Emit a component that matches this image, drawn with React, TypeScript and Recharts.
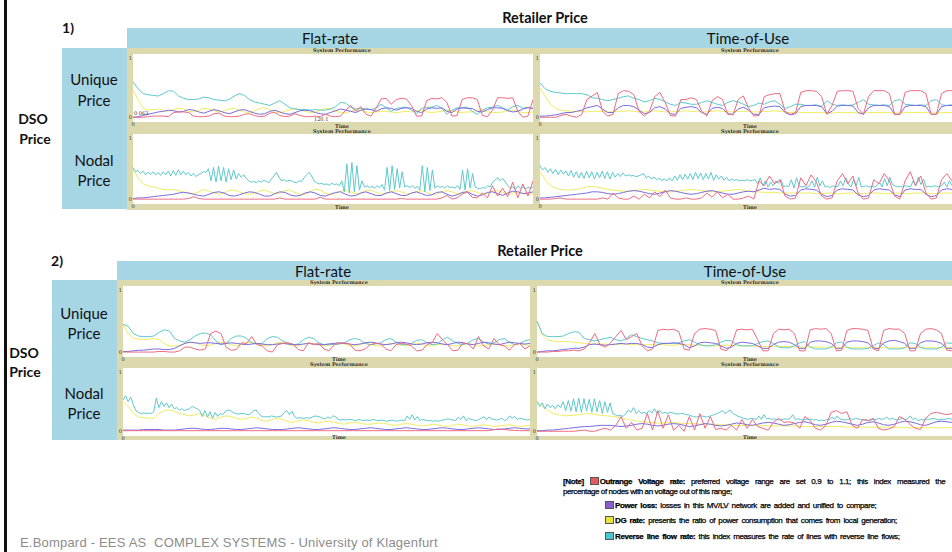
import { Line, LineChart, XAxis, YAxis } from "recharts";

const RED = "#ee6b80";
const PURPLE = "#7b6ce0";
const YELLOW = "#f0ec62";
const CYAN = "#5ec9cc";
const KHAKI = "#dcd9ae";
const BLUE = "#a6d5e4";

const seriesNames = ["Outrange Voltage rate", "Power loss", "DG rate", "Reverse line flow rate"];
const columnLabels = ["Flat-rate", "Time-of-Use"];
const rowLabels = ["Unique", "Nodal"];

// 1) flat-rate / unique DSO price
const p1FlatUniqueRed = [0,0,0,0.01,0.02,0.02,0.02,0.01,0.08,0.09, 0.09,0.08,0.02,0.01,0.01,0.02,0.06,0.07,0.02,0.01, 0.01,0.02,0.05,0.06,0.03,0.01,0.02,0.07,0.08,0.03, 0.01,0.02,0.06,0.03,0.01,0.01,0.02,0.01,0.05,0.02, 0.01,0.02,0.12,0.2,0.1,0.18,0.05,0.02,0.15,0.31, 0.32,0.22,0.3,0.32,0.31,0.2,0.02,0.02,0.28,0.32, 0.31,0.33,0.25,0.02,0.03,0.3,0.33,0.33,0.3,0.03, 0.01,0.12,0.33,0.33,0.32,0.33,0.1,0,0.02,0.3];
const p1FlatUniquePurple = [0,0.01,0.03,0.05,0.07,0.09,0.1,0.12,0.11,0.09, 0.1,0.13,0.12,0.09,0.07,0.1,0.13,0.11,0.08,0.06, 0.09,0.12,0.13,0.1,0.07,0.05,0.06,0.1,0.12,0.09, 0.06,0.05,0.08,0.11,0.12,0.11,0.08,0.06,0.05,0.08, 0.11,0.14,0.12,0.1,0.08,0.12,0.14,0.13,0.1,0.14, 0.16,0.15,0.12,0.15,0.16,0.15,0.1,0.08,0.14,0.16, 0.15,0.16,0.1,0.08,0.14,0.16,0.15,0.15,0.1,0.09, 0.13,0.16,0.16,0.15,0.11,0.09,0.1,0.14,0.16,0.15];
const p1FlatUniqueYellow = [0.46,0.3,0.15,0.12,0.13,0.14,0.12,0.1,0.13,0.15, 0.14,0.1,0.09,0.12,0.15,0.14,0.11,0.09,0.11,0.14, 0.15,0.12,0.09,0.08,0.11,0.15,0.16,0.13,0.09,0.08, 0.1,0.13,0.15,0.13,0.1,0.08,0.09,0.12,0.15,0.14, 0.1,0.08,0.07,0.1,0.13,0.12,0.09,0.08,0.09,0.1, 0.1,0.09,0.08,0.09,0.1,0.09,0.11,0.12,0.09,0.08, 0.09,0.1,0.12,0.11,0.09,0.08,0.09,0.09,0.12,0.12, 0.09,0.08,0.08,0.09,0.11,0.12,0.1,0.08,0.08,0.09];
const p1FlatUniqueCyan = [0.6,0.48,0.4,0.38,0.37,0.36,0.4,0.45,0.44,0.36, 0.32,0.3,0.3,0.31,0.34,0.33,0.3,0.29,0.28,0.3, 0.36,0.4,0.37,0.3,0.26,0.24,0.22,0.2,0.24,0.28, 0.22,0.16,0.14,0.13,0.13,0.12,0.13,0.12,0.12,0.14, 0.18,0.25,0.24,0.17,0.14,0.15,0.14,0.13,0.16,0.22, 0.16,0.1,0.15,0.16,0.17,0.12,0.06,0.15,0.17,0.17, 0.2,0.15,0.05,0.12,0.16,0.16,0.17,0.1,0.05,0.12, 0.16,0.17,0.2,0.16,0.12,0.18,0.2,0.15,0.17,0.15];

// 1) time-of-use / unique
const p1TouUniqueRed = [0,0,0,0,0.03,0.05,0.02,0,0.05,0.3, 0.36,0.42,0.1,0.02,0.05,0.4,0.45,0.44,0.38,0.1, 0.02,0.1,0.35,0.42,0.25,0.03,0.02,0.3,0.3,0.33, 0.3,0.1,0.02,0.28,0.35,0.3,0.05,0.04,0.3,0.36, 0.15,0.02,0.03,0.35,0.38,0.4,0.4,0.1,0.05,0.08, 0.42,0.45,0.45,0.44,0.35,0.05,0.2,0.44,0.45,0.45, 0.44,0.15,0.05,0.35,0.45,0.45,0.45,0.4,0.05,0.05, 0.42,0.45,0.45,0.45,0.4,0.05,0.05,0.4,0.45,0.45];
const p1TouUniquePurple = [0.02,0.02,0.03,0.04,0.06,0.08,0.08,0.1,0.12,0.16, 0.18,0.2,0.14,0.08,0.08,0.16,0.2,0.2,0.18,0.12, 0.06,0.08,0.16,0.18,0.14,0.06,0.05,0.15,0.17,0.18, 0.16,0.08,0.05,0.15,0.17,0.15,0.06,0.05,0.14,0.17, 0.12,0.05,0.05,0.16,0.18,0.19,0.18,0.08,0.04,0.06, 0.18,0.2,0.2,0.2,0.18,0.06,0.1,0.19,0.2,0.2, 0.19,0.08,0.05,0.16,0.2,0.2,0.2,0.18,0.05,0.05, 0.18,0.2,0.2,0.2,0.18,0.05,0.05,0.18,0.2,0.2];
const p1TouUniqueYellow = [0.5,0.35,0.22,0.15,0.12,0.11,0.1,0.1,0.1,0.09, 0.1,0.1,0.1,0.09,0.09,0.1,0.1,0.11,0.1,0.09, 0.09,0.1,0.11,0.1,0.09,0.09,0.1,0.1,0.11,0.1, 0.1,0.09,0.09,0.1,0.11,0.1,0.09,0.09,0.1,0.1, 0.1,0.09,0.09,0.1,0.1,0.11,0.1,0.09,0.08,0.09, 0.08,0.08,0.08,0.08,0.08,0.07,0.07,0.08,0.08,0.08, 0.08,0.07,0.07,0.08,0.08,0.08,0.08,0.08,0.07,0.07, 0.08,0.08,0.08,0.08,0.08,0.07,0.07,0.08,0.08,0.08];
const p1TouUniqueCyan = [0.58,0.48,0.44,0.42,0.41,0.4,0.4,0.4,0.4,0.38, 0.33,0.32,0.3,0.28,0.3,0.32,0.35,0.36,0.32,0.3, 0.26,0.28,0.32,0.3,0.26,0.22,0.2,0.25,0.24,0.22, 0.22,0.25,0.28,0.25,0.22,0.2,0.25,0.28,0.26,0.22, 0.18,0.2,0.24,0.22,0.26,0.28,0.22,0.15,0.18,0.22, 0.22,0.2,0.2,0.21,0.18,0.28,0.22,0.2,0.21,0.2, 0.21,0.25,0.3,0.22,0.21,0.2,0.21,0.2,0.28,0.3, 0.22,0.21,0.2,0.21,0.2,0.28,0.3,0.21,0.2,0.21];

// 1) flat-rate / nodal
const p1FlatNodalRed = [0,0,0,0,0,0,0,0,0,0, 0,0.01,0.04,0.01,0,0,0,0,0,0, 0,0,0,0,0,0,0,0,0,0.02, 0,0,0,0,0,0,0,0.03,0,0, 0,0,0,0,0,0,0,0,0,0, 0,0,0,0.01,0,0,0,0,0,0, 0,0.02,0.06,0,0.02,0.08,0.12,0.03,0.02,0.1, 0.02,0.22,0.05,0.18,0.04,0.28,0.02,0.25,0.05,0.3];
const p1FlatNodalPurple = [0.01,0.02,0.02,0.03,0.04,0.05,0.06,0.07,0.08,0.1, 0.11,0.1,0.08,0.06,0.05,0.08,0.11,0.12,0.1,0.06, 0.05,0.07,0.1,0.12,0.11,0.08,0.05,0.05,0.09,0.12, 0.11,0.07,0.05,0.06,0.1,0.12,0.1,0.06,0.05,0.08, 0.11,0.12,0.08,0.05,0.06,0.1,0.12,0.09,0.06,0.06, 0.1,0.12,0.09,0.06,0.06,0.1,0.12,0.09,0.06,0.07, 0.11,0.12,0.08,0.05,0.07,0.11,0.12,0.08,0.05,0.07, 0.11,0.12,0.09,0.06,0.1,0.13,0.12,0.09,0.1,0.12];
const p1FlatNodalYellow = [0.5,0.35,0.25,0.22,0.2,0.18,0.16,0.15,0.16,0.14, 0.12,0.1,0.09,0.12,0.16,0.13,0.1,0.08,0.1,0.14, 0.15,0.12,0.09,0.08,0.09,0.13,0.15,0.12,0.09,0.1, 0.14,0.15,0.11,0.08,0.08,0.12,0.16,0.15,0.1,0.08, 0.09,0.13,0.15,0.12,0.09,0.1,0.14,0.15,0.11,0.08, 0.09,0.12,0.14,0.12,0.09,0.09,0.12,0.14,0.11,0.08, 0.08,0.12,0.14,0.12,0.09,0.09,0.13,0.14,0.11,0.08, 0.09,0.13,0.14,0.11,0.09,0.1,0.12,0.1,0.08,0.09];
const p1FlatNodalCyan = [0.52,0.45,0.47,0.42,0.46,0.4,0.44,0.41,0.45,0.4, 0.44,0.39,0.45,0.4,0.46,0.38,0.47,0.39,0.48,0.4, 0.46,0.4,0.44,0.38,0.42,0.37,0.4,0.42,0.45,0.44, 0.5,0.3,0.52,0.28,0.54,0.3,0.52,0.28,0.5,0.32, 0.48,0.33,0.42,0.36,0.4,0.34,0.3,0.28,0.29,0.27, 0.3,0.28,0.31,0.29,0.27,0.33,0.38,0.44,0.36,0.3, 0.32,0.29,0.31,0.3,0.28,0.27,0.3,0.29,0.35,0.4, 0.44,0.38,0.3,0.27,0.25,0.26,0.24,0.25,0.23,0.26, 0.24,0.25,0.22,0.3,0.12,0.58,0.1,0.6,0.12,0.55, 0.15,0.3,0.2,0.22,0.19,0.21,0.18,0.22,0.19,0.24, 0.15,0.52,0.14,0.55,0.16,0.5,0.18,0.45,0.2,0.22, 0.19,0.22,0.18,0.21,0.15,0.55,0.12,0.52,0.14,0.48, 0.18,0.22,0.19,0.21,0.18,0.22,0.19,0.2,0.18,0.22, 0.16,0.48,0.15,0.5,0.18,0.42,0.2,0.18,0.17,0.19, 0.18,0.22,0.2,0.28,0.32,0.35,0.3,0.34,0.28,0.22, 0.18,0.2,0.16,0.22,0.18,0.2,0.17,0.19,0.18,0.2];

// 1) time-of-use / nodal
const p1TouNodalRed = [0,0,0,0.01,0.02,0,0,0,0,0, 0,0,0.02,0,0.1,0.02,0,0,0.05,0, 0.08,0.02,0.12,0.04,0.15,0.02,0,0,0.02,0, 0,0.02,0.1,0.03,0.12,0.02,0.08,0,0,0.02, 0.05,0,0.3,0.22,0.38,0.25,0.32,0.05,0,0.02, 0.35,0.22,0.4,0.28,0.05,0,0.02,0.3,0.42,0.25, 0.38,0.1,0,0.02,0.32,0.25,0.42,0.3,0.05,0, 0.3,0.45,0.22,0.38,0.1,0,0.02,0.32,0.42,0.3];
const p1TouNodalPurple = [0.02,0.02,0.03,0.04,0.05,0.06,0.07,0.08,0.09,0.1, 0.12,0.12,0.11,0.09,0.08,0.09,0.11,0.13,0.14,0.13, 0.11,0.09,0.08,0.1,0.12,0.14,0.13,0.11,0.09,0.08, 0.09,0.11,0.13,0.14,0.12,0.1,0.08,0.08,0.1,0.12, 0.13,0.12,0.15,0.18,0.16,0.17,0.16,0.08,0.05,0.06, 0.15,0.17,0.16,0.15,0.08,0.04,0.06,0.15,0.17,0.16, 0.15,0.07,0.04,0.06,0.15,0.17,0.16,0.15,0.07,0.04, 0.15,0.17,0.16,0.16,0.08,0.04,0.06,0.15,0.17,0.16];
const p1TouNodalYellow = [0.45,0.32,0.22,0.18,0.16,0.15,0.15,0.16,0.18,0.2, 0.21,0.2,0.18,0.16,0.15,0.14,0.13,0.13,0.14,0.15, 0.16,0.15,0.14,0.13,0.12,0.12,0.13,0.14,0.15,0.16, 0.15,0.14,0.13,0.12,0.12,0.13,0.14,0.15,0.16,0.15, 0.13,0.12,0.12,0.11,0.11,0.11,0.1,0.1,0.1,0.1, 0.1,0.1,0.1,0.09,0.09,0.1,0.1,0.09,0.09,0.1, 0.1,0.09,0.09,0.1,0.1,0.1,0.09,0.09,0.1,0.1, 0.09,0.09,0.1,0.1,0.1,0.09,0.09,0.1,0.1,0.1];
const p1TouNodalCyan = [0.55,0.48,0.52,0.44,0.5,0.42,0.49,0.4,0.48,0.41, 0.46,0.38,0.47,0.36,0.45,0.35,0.44,0.34,0.46,0.35, 0.45,0.33,0.44,0.35,0.46,0.34,0.45,0.33,0.44,0.36, 0.42,0.37,0.43,0.38,0.4,0.38,0.39,0.37,0.38,0.4, 0.42,0.35,0.38,0.33,0.36,0.32,0.34,0.31,0.33,0.3, 0.35,0.3,0.38,0.31,0.4,0.32,0.41,0.33,0.42,0.32, 0.44,0.34,0.43,0.32,0.42,0.33,0.44,0.31,0.4,0.33, 0.38,0.31,0.36,0.3,0.33,0.31,0.32,0.3,0.31,0.3, 0.32,0.3,0.31,0.32,0.25,0.35,0.22,0.3,0.2,0.28, 0.22,0.3,0.26,0.32,0.2,0.22,0.21,0.32,0.18,0.35, 0.22,0.2,0.21,0.19,0.22,0.3,0.2,0.36,0.22,0.3, 0.2,0.21,0.19,0.22,0.2,0.21,0.3,0.22,0.35,0.25, 0.2,0.32,0.22,0.36,0.2,0.21,0.22,0.2,0.21,0.2, 0.22,0.28,0.2,0.34,0.22,0.36,0.24,0.22,0.2,0.21, 0.2,0.22,0.21,0.2,0.3,0.22,0.36,0.24,0.33,0.2, 0.21,0.2,0.22,0.21,0.2,0.22,0.28,0.2,0.3,0.22];

// 2) flat-rate / unique
const p2FlatUniqueRed = [0,0,0,0,0,0,0,0.01,0.01,0, 0,0.02,0.08,0.08,0.05,0.03,0.05,0.3,0.34,0.3, 0.08,0.03,0.04,0.15,0.14,0.25,0.12,0.1,0.02,0, 0.12,0.14,0.15,0.13,0.04,0.02,0.15,0.12,0.14,0.05, 0.02,0.12,0.14,0.15,0.13,0.03,0.02,0.05,0.12,0.14, 0.13,0.05,0.02,0.12,0.14,0.13,0.1,0.02,0.03,0.12, 0.15,0.3,0.2,0.12,0.02,0.03,0.15,0.13,0.05,0.25, 0.1,0.05,0.22,0.12,0.1,0.03,0.12,0.14,0.05,0.1];
const p2FlatUniquePurple = [0.01,0.01,0.02,0.03,0.03,0.04,0.05,0.05,0.04,0.04, 0.06,0.1,0.14,0.16,0.15,0.14,0.15,0.15,0.14,0.13, 0.14,0.15,0.14,0.13,0.12,0.13,0.14,0.13,0.12,0.12, 0.13,0.14,0.13,0.12,0.12,0.13,0.14,0.13,0.12,0.12, 0.13,0.14,0.15,0.14,0.13,0.12,0.13,0.15,0.16,0.15, 0.13,0.12,0.13,0.15,0.16,0.15,0.13,0.12,0.13,0.15, 0.16,0.15,0.13,0.12,0.14,0.16,0.15,0.13,0.12,0.14, 0.16,0.15,0.13,0.12,0.14,0.16,0.15,0.14,0.13,0.14];
const p2FlatUniqueYellow = [0.45,0.3,0.22,0.21,0.2,0.21,0.22,0.2,0.14,0.1, 0.1,0.11,0.14,0.16,0.15,0.12,0.1,0.11,0.14,0.16, 0.15,0.12,0.1,0.12,0.15,0.16,0.14,0.11,0.1,0.12, 0.15,0.16,0.13,0.1,0.1,0.13,0.15,0.14,0.11,0.1, 0.11,0.14,0.15,0.13,0.1,0.1,0.12,0.14,0.13,0.1, 0.1,0.12,0.14,0.13,0.11,0.1,0.12,0.14,0.13,0.1, 0.1,0.12,0.13,0.12,0.1,0.1,0.12,0.14,0.12,0.1, 0.1,0.12,0.13,0.12,0.1,0.1,0.12,0.13,0.12,0.1];
const p2FlatUniqueCyan = [0.45,0.42,0.3,0.26,0.25,0.25,0.26,0.32,0.36,0.34, 0.22,0.18,0.16,0.2,0.26,0.3,0.31,0.28,0.18,0.12, 0.14,0.22,0.26,0.26,0.22,0.15,0.13,0.14,0.22,0.25, 0.24,0.18,0.14,0.12,0.13,0.2,0.24,0.22,0.15,0.12, 0.13,0.12,0.13,0.15,0.2,0.22,0.2,0.14,0.12,0.13, 0.15,0.2,0.22,0.16,0.12,0.12,0.14,0.19,0.2,0.15, 0.12,0.13,0.2,0.24,0.18,0.14,0.12,0.15,0.2,0.22, 0.16,0.13,0.15,0.2,0.22,0.16,0.12,0.14,0.18,0.2];

// 2) time-of-use / unique
const p2TouUniqueRed = [0,0,0,0.01,0.01,0.02,0.02,0.03,0.02,0.05, 0.15,0.3,0.12,0.08,0.15,0.25,0.35,0.2,0.25,0.3, 0.1,0.02,0.05,0.35,0.37,0.36,0.37,0.33,0.05,0.03, 0.3,0.37,0.38,0.37,0.35,0.05,0.02,0.1,0.36,0.37, 0.36,0.37,0.2,0.02,0.02,0.3,0.37,0.36,0.37,0.3, 0.02,0.02,0.36,0.38,0.37,0.38,0.3,0.02,0.03,0.35, 0.38,0.38,0.37,0.35,0.05,0.02,0.35,0.38,0.37,0.37, 0.3,0.02,0.02,0.3,0.37,0.38,0.36,0.3,0.03,0.02];
const p2TouUniquePurple = [0,0.01,0.02,0.02,0.03,0.04,0.05,0.06,0.06,0.08, 0.12,0.13,0.12,0.11,0.12,0.13,0.14,0.13,0.14,0.14, 0.12,0.08,0.07,0.12,0.14,0.14,0.15,0.14,0.12,0.07, 0.1,0.15,0.16,0.15,0.14,0.1,0.06,0.08,0.14,0.16, 0.15,0.14,0.1,0.06,0.06,0.12,0.16,0.17,0.16,0.12, 0.06,0.06,0.16,0.18,0.18,0.17,0.14,0.06,0.06,0.16, 0.18,0.18,0.17,0.15,0.07,0.05,0.15,0.18,0.19,0.17, 0.14,0.06,0.06,0.15,0.18,0.18,0.17,0.14,0.06,0.06];
const p2TouUniqueYellow = [0.5,0.28,0.2,0.18,0.17,0.17,0.17,0.16,0.15,0.14, 0.13,0.13,0.13,0.13,0.12,0.12,0.13,0.13,0.12,0.12, 0.12,0.12,0.12,0.12,0.12,0.11,0.11,0.12,0.12,0.12, 0.11,0.11,0.11,0.1,0.1,0.11,0.11,0.11,0.1,0.1, 0.1,0.1,0.09,0.09,0.09,0.09,0.09,0.09,0.09,0.08, 0.08,0.08,0.08,0.08,0.08,0.08,0.08,0.07,0.07,0.07, 0.07,0.07,0.07,0.07,0.07,0.07,0.07,0.07,0.07,0.07, 0.07,0.07,0.07,0.07,0.07,0.07,0.07,0.07,0.07,0.07];
const p2TouUniqueCyan = [0.5,0.3,0.25,0.25,0.25,0.26,0.3,0.33,0.32,0.22, 0.2,0.18,0.2,0.22,0.24,0.2,0.18,0.22,0.28,0.25, 0.22,0.2,0.18,0.15,0.14,0.14,0.14,0.15,0.18,0.2, 0.16,0.12,0.1,0.1,0.12,0.16,0.19,0.18,0.12,0.1, 0.1,0.1,0.14,0.17,0.18,0.14,0.08,0.07,0.07,0.1, 0.15,0.17,0.08,0.05,0.05,0.05,0.08,0.15,0.16,0.08, 0.05,0.05,0.05,0.06,0.1,0.15,0.12,0.05,0.05,0.05, 0.07,0.15,0.14,0.08,0.05,0.05,0.05,0.08,0.15,0.14];

// 2) flat-rate / nodal
const p2FlatNodalRed = [0.01,0.01,0.01,0.01,0.01,0.01,0.01,0.01,0.01,0.01, 0.01,0.01,0.01,0.01,0.01,0.01,0.01,0.01,0.01,0.01, 0.01,0.01,0.01,0.01,0.01,0.01,0.01,0.01,0.01,0.01, 0.01,0.01,0.01,0.01,0.01,0.01,0.04,0.02,0.01,0.01];
const p2FlatNodalPurple = [0.02,0.02,0.02,0.02,0.03,0.03,0.03,0.03,0.02,0.02, 0.02,0.03,0.04,0.05,0.05,0.04,0.03,0.03,0.04,0.05, 0.05,0.04,0.03,0.03,0.04,0.05,0.06,0.05,0.04,0.03, 0.03,0.03,0.04,0.05,0.06,0.05,0.04,0.03,0.03,0.04, 0.05,0.06,0.05,0.04,0.03,0.03,0.04,0.05,0.06,0.05, 0.04,0.03,0.03,0.04,0.05,0.06,0.05,0.04,0.03,0.03, 0.04,0.05,0.06,0.05,0.04,0.03,0.03,0.04,0.05,0.06, 0.05,0.04,0.03,0.03,0.04,0.05,0.06,0.05,0.04,0.04];
const p2FlatNodalYellow = [0.5,0.42,0.3,0.24,0.23,0.22,0.22,0.3,0.35,0.36, 0.34,0.3,0.28,0.26,0.28,0.3,0.26,0.22,0.2,0.24, 0.26,0.25,0.22,0.2,0.22,0.24,0.22,0.18,0.17,0.2, 0.22,0.2,0.16,0.15,0.17,0.19,0.18,0.15,0.14,0.16, 0.17,0.15,0.13,0.12,0.14,0.15,0.14,0.12,0.12,0.13, 0.14,0.13,0.11,0.1,0.12,0.13,0.12,0.1,0.09,0.1, 0.12,0.11,0.09,0.08,0.1,0.12,0.11,0.09,0.08,0.1, 0.11,0.1,0.08,0.09,0.1,0.11,0.1,0.08,0.09,0.1];
const p2FlatNodalCyan = [0.53,0.6,0.5,0.58,0.45,0.35,0.32,0.3,0.31,0.3, 0.31,0.3,0.33,0.56,0.4,0.5,0.42,0.48,0.4,0.46, 0.38,0.4,0.36,0.38,0.35,0.37,0.38,0.42,0.4,0.38, 0.35,0.25,0.35,0.24,0.33,0.22,0.32,0.25,0.3,0.28, 0.34,0.36,0.35,0.32,0.3,0.29,0.3,0.3,0.29,0.28, 0.3,0.35,0.36,0.3,0.26,0.24,0.25,0.24,0.26,0.25, 0.24,0.25,0.26,0.32,0.35,0.28,0.34,0.25,0.22,0.23, 0.22,0.22,0.23,0.22,0.24,0.26,0.25,0.24,0.22,0.21, 0.24,0.22,0.26,0.25,0.2,0.19,0.2,0.19,0.2,0.2, 0.19,0.18,0.2,0.19,0.18,0.19,0.18,0.19,0.2,0.18, 0.18,0.19,0.18,0.17,0.18,0.19,0.18,0.17,0.18,0.19, 0.18,0.26,0.2,0.28,0.19,0.25,0.18,0.2,0.19,0.18, 0.18,0.17,0.18,0.17,0.18,0.19,0.2,0.21,0.2,0.19, 0.18,0.24,0.2,0.26,0.18,0.22,0.2,0.19,0.18,0.2, 0.22,0.25,0.2,0.24,0.21,0.2,0.19,0.2,0.22,0.18, 0.2,0.26,0.22,0.25,0.2,0.22,0.21,0.2,0.19,0.2];

// 2) time-of-use / nodal
const p2TouNodalRed = [0,0,0,0,0,0,0,0,0.01,0.02, 0,0,0.03,0.05,0.02,0.1,0.25,0.05,0.15,0.02, 0.05,0.3,0.02,0.35,0.05,0.28,0.02,0.1,0,0.25, 0.02,0.3,0.05,0.25,0.03,0.05,0.02,0.1,0.02,0.2, 0.05,0.2,0.08,0.05,0.02,0.15,0.22,0.15,0.16,0.14, 0.05,0.25,0.18,0.05,0.02,0.1,0.32,0.35,0.3,0.33, 0.1,0.05,0.2,0.18,0.22,0.05,0.02,0.04,0.08,0.25, 0.2,0.12,0.05,0.03,0.22,0.3,0.32,0.3,0.28,0.3];
const p2TouNodalPurple = [0.01,0.01,0.02,0.02,0.03,0.04,0.05,0.06,0.07,0.08, 0.08,0.09,0.1,0.1,0.1,0.09,0.08,0.09,0.1,0.12, 0.13,0.12,0.1,0.09,0.1,0.12,0.13,0.12,0.1,0.08, 0.09,0.11,0.13,0.12,0.1,0.09,0.1,0.12,0.14,0.13, 0.11,0.1,0.12,0.14,0.15,0.14,0.12,0.1,0.11,0.13, 0.15,0.16,0.14,0.11,0.1,0.12,0.15,0.17,0.16,0.14, 0.12,0.1,0.12,0.15,0.16,0.14,0.11,0.1,0.12,0.15, 0.17,0.16,0.14,0.11,0.1,0.13,0.16,0.17,0.16,0.15];
const p2TouNodalYellow = [0.5,0.4,0.32,0.28,0.26,0.27,0.28,0.3,0.29,0.27, 0.26,0.25,0.22,0.2,0.18,0.16,0.15,0.14,0.14,0.15, 0.14,0.13,0.13,0.12,0.12,0.12,0.11,0.11,0.1,0.1, 0.1,0.1,0.1,0.09,0.09,0.09,0.09,0.09,0.08,0.08, 0.08,0.08,0.08,0.08,0.07,0.07,0.07,0.07,0.07,0.07, 0.07,0.07,0.06,0.06,0.06,0.06,0.06,0.06,0.06,0.06];
const p2TouNodalCyan = [0.5,0.42,0.48,0.38,0.46,0.4,0.44,0.38,0.45,0.4, 0.5,0.35,0.52,0.34,0.55,0.33,0.56,0.32,0.55,0.34, 0.54,0.32,0.55,0.33,0.52,0.3,0.5,0.32,0.48,0.3, 0.28,0.26,0.27,0.25,0.3,0.36,0.32,0.4,0.3,0.35, 0.3,0.32,0.3,0.35,0.31,0.38,0.3,0.35,0.3,0.32, 0.3,0.32,0.31,0.3,0.29,0.3,0.3,0.28,0.28,0.26, 0.25,0.24,0.25,0.26,0.25,0.24,0.25,0.27,0.28,0.3, 0.32,0.35,0.3,0.33,0.36,0.3,0.28,0.25,0.24,0.22, 0.21,0.2,0.22,0.21,0.2,0.26,0.2,0.28,0.21,0.22, 0.2,0.21,0.2,0.19,0.2,0.21,0.2,0.22,0.28,0.2, 0.21,0.2,0.19,0.2,0.21,0.2,0.19,0.2,0.18,0.19, 0.18,0.2,0.19,0.24,0.2,0.26,0.21,0.2,0.19,0.2, 0.21,0.2,0.22,0.21,0.2,0.19,0.2,0.18,0.19,0.2, 0.2,0.22,0.2,0.21,0.24,0.2,0.22,0.2,0.19,0.2, 0.22,0.2,0.21,0.26,0.2,0.22,0.18,0.2,0.19,0.21, 0.2,0.21,0.22,0.2,0.19,0.2,0.2,0.21,0.22,0.2];

type Series = { red: number[]; purple: number[]; yellow: number[]; cyan: number[] };

const pts = (arr: number[]) => arr.map((v, i) => ({ t: i / (arr.length - 1), v }));

const SERIF = "'DejaVu Serif', serif";
const tiny = { fontFamily: SERIF, fontSize: 5, fontWeight: 700, color: "#333", lineHeight: "5px" };
const tickStyle = { fontSize: 5, fill: "#333", fontFamily: SERIF };

function PerfChart({ x, y, w, h, strip, top, bottom, mid, s }: { x: number; y: number; w: number; h: number; strip: number; top: number; bottom: number; mid: number; s: Series }) {
  return (
    <div style={{ position: "absolute", left: x, top: y, width: w, height: h, background: "#fff", overflow: "hidden" }}>
      <div style={{ position: "absolute", left: 0, top: 0, width: w, height: top, background: KHAKI }} />
      <div style={{ position: "absolute", left: 0, bottom: 0, width: w, height: bottom, background: KHAKI }} />
      <div style={{ position: "absolute", left: 0, top: 0, width: strip, height: h, background: KHAKI }} />
      <div style={{ ...tiny, position: "absolute", left: mid - 40, width: 80, top: 0, textAlign: "center" }}>System Performance</div>
      <div style={{ ...tiny, position: "absolute", left: mid - 20, width: 40, bottom: 0, textAlign: "center" }}>Time</div>
      <div style={{ position: "absolute", left: 0, top: 0 }}>
        <LineChart width={w} height={h} margin={{ top, right: 0, bottom: 0, left: 0 }}>
          <XAxis type="number" dataKey="t" domain={[0, 1]} ticks={[0]} height={bottom} axisLine={false} tickLine={false} tickSize={0} tickMargin={0} tick={tickStyle} />
          <YAxis type="number" domain={[-0.08, 1.07]} ticks={[0, 1]} width={strip} axisLine={false} tickLine={false} tickSize={0} tickMargin={1} tick={tickStyle} />
          <Line data={pts(s.yellow)} dataKey="v" name={seriesNames[2]} stroke={YELLOW} strokeWidth={1} dot={false} isAnimationActive={false} type="linear" />
          <Line data={pts(s.cyan)} dataKey="v" name={seriesNames[3]} stroke={CYAN} strokeWidth={1} dot={false} isAnimationActive={false} type="linear" />
          <Line data={pts(s.purple)} dataKey="v" name={seriesNames[1]} stroke={PURPLE} strokeWidth={1} dot={false} isAnimationActive={false} type="linear" />
          <Line data={pts(s.red)} dataKey="v" name={seriesNames[0]} stroke={RED} strokeWidth={1} dot={false} isAnimationActive={false} type="linear" />
        </LineChart>
      </div>
    </div>
  );
}

function Txt({ x, y, size, bold, children, color }: { x: number; y: number; size: number; bold?: boolean; color?: string; children: React.ReactNode }) {
  return (
    <div style={{ position: "absolute", left: x, top: y, transform: "translate(-50%, -50%)", fontSize: size, fontWeight: bold ? 700 : 400, whiteSpace: "nowrap", lineHeight: 1, color: color ?? "#111" }}>
      {children}
    </div>
  );
}

function Sq({ c }: { c: string }) {
  return <span style={{ display: "inline-block", width: 7, height: 6, background: c, border: "1px solid #555", marginRight: 1, verticalAlign: "-1px" }} />;
}

export default function App() {
  const legendLine = { position: "absolute" as const, whiteSpace: "nowrap" as const, fontFamily: "'Liberation Sans', Arial, sans-serif", fontSize: 8, letterSpacing: -0.4, color: "#000", lineHeight: "9px", WebkitTextStroke: "0.25px #000" };
  return (
    <div style={{ position: "fixed", left: 0, top: 0, width: 952, height: 552, background: "#fff", overflow: "hidden", fontFamily: "Lato, 'Open Sans', sans-serif" }}>
      <div style={{ position: "absolute", left: 4, top: 0, width: 3, height: 552, background: "#111" }} />

      {/* panel 1 */}
      <Txt x={545} y={18} size={14.5} bold>Retailer Price</Txt>
      <Txt x={68} y={28} size={14} bold>1)</Txt>
      <div style={{ position: "absolute", left: 127, top: 28, width: 825, height: 20, background: BLUE }} />
      <div style={{ position: "absolute", left: 62, top: 48, width: 65, height: 161, background: BLUE }} />
      <Txt x={330} y={38} size={15}>{columnLabels[0]}</Txt>
      <Txt x={748} y={38} size={15}>{columnLabels[1]}</Txt>
      <Txt x={94} y={79} size={15}>{rowLabels[0]}</Txt>
      <Txt x={94} y={100} size={15}>Price</Txt>
      <Txt x={94} y={160} size={15}>{rowLabels[1]}</Txt>
      <Txt x={94} y={180} size={15}>Price</Txt>
      <Txt x={33} y={119} size={14} bold>DSO</Txt>
      <Txt x={35} y={139} size={14} bold>Price</Txt>
      <PerfChart x={127} y={48} w={406} h={81} strip={6} top={6} bottom={7} mid={215} s={{ red: p1FlatUniqueRed, purple: p1FlatUniquePurple, yellow: p1FlatUniqueYellow, cyan: p1FlatUniqueCyan }} />
      <PerfChart x={533} y={48} w={419} h={81} strip={7} top={6} bottom={7} mid={217} s={{ red: p1TouUniqueRed, purple: p1TouUniquePurple, yellow: p1TouUniqueYellow, cyan: p1TouUniqueCyan }} />
      <PerfChart x={127} y={129} w={406} h={81} strip={6} top={5} bottom={6} mid={215} s={{ red: p1FlatNodalRed, purple: p1FlatNodalPurple, yellow: p1FlatNodalYellow, cyan: p1FlatNodalCyan }} />
      <PerfChart x={533} y={129} w={419} h={81} strip={7} top={5} bottom={6} mid={217} s={{ red: p1TouNodalRed, purple: p1TouNodalPurple, yellow: p1TouNodalYellow, cyan: p1TouNodalCyan }} />
      <div style={{ ...tiny, fontWeight: 400, position: "absolute", left: 134, top: 111 }}>0.063</div>
      <div style={{ ...tiny, fontWeight: 400, position: "absolute", left: 314, top: 117 }}>120.1</div>

      {/* panel 2 */}
      <Txt x={540} y={251} size={14.5} bold>Retailer Price</Txt>
      <Txt x={57} y={261} size={14} bold>2)</Txt>
      <div style={{ position: "absolute", left: 117, top: 261, width: 835, height: 19, background: BLUE }} />
      <div style={{ position: "absolute", left: 52, top: 280, width: 65, height: 160, background: BLUE }} />
      <Txt x={323} y={271} size={15}>{columnLabels[0]}</Txt>
      <Txt x={745} y={271} size={15}>{columnLabels[1]}</Txt>
      <Txt x={84} y={313} size={15}>{rowLabels[0]}</Txt>
      <Txt x={84} y={333} size={15}>Price</Txt>
      <Txt x={84} y={393} size={15}>{rowLabels[1]}</Txt>
      <Txt x={84} y={413} size={15}>Price</Txt>
      <Txt x={24} y={353} size={14} bold>DSO</Txt>
      <Txt x={25} y={372} size={14} bold>Price</Txt>
      <PerfChart x={117} y={280} w={413} h={82} strip={6} top={6} bottom={5} mid={222} s={{ red: p2FlatUniqueRed, purple: p2FlatUniquePurple, yellow: p2FlatUniqueYellow, cyan: p2FlatUniqueCyan }} />
      <PerfChart x={530} y={280} w={422} h={82} strip={7} top={6} bottom={5} mid={220} s={{ red: p2TouUniqueRed, purple: p2TouUniquePurple, yellow: p2TouUniqueYellow, cyan: p2TouUniqueCyan }} />
      <PerfChart x={117} y={362} w={413} h={78} strip={6} top={6} bottom={4} mid={222} s={{ red: p2FlatNodalRed, purple: p2FlatNodalPurple, yellow: p2FlatNodalYellow, cyan: p2FlatNodalCyan }} />
      <PerfChart x={530} y={362} w={422} h={78} strip={7} top={6} bottom={4} mid={220} s={{ red: p2TouNodalRed, purple: p2TouNodalPurple, yellow: p2TouNodalYellow, cyan: p2TouNodalCyan }} />

      {/* note */}
      <div style={{ ...legendLine, left: 563, top: 477, wordSpacing: 4.2 }}><b>[Note]</b> <Sq c="#e85a5a" /><b>Outrange Voltage rate:</b> preferred voltage range are set 0.9 to 1.1; this index measured the</div>
      <div style={{ ...legendLine, left: 563, top: 487 }}>percentage of nodes with an voltage out of this range;</div>
      <div style={{ ...legendLine, left: 605, top: 501, wordSpacing: 1.5 }}><Sq c="#8a5cd0" /><b>Power loss:</b> losses in this MV/LV network are added and unified to compare;</div>
      <div style={{ ...legendLine, left: 605, top: 516, wordSpacing: 1.5 }}><Sq c="#e8e43a" /><b>DG rate:</b> presents the ratio of power consumption that comes from local generation;</div>
      <div style={{ ...legendLine, left: 605, top: 532, wordSpacing: 1.5 }}><Sq c="#4cc4d4" /><b>Reverse line flow rate:</b> this index measures the rate of lines with reverse line flows;</div>

      <div style={{ position: "absolute", left: 20, top: 535, fontFamily: "'Liberation Sans', Arial, sans-serif", fontSize: 13, letterSpacing: 0.2, color: "#8c8c8c", whiteSpace: "nowrap" }}>E.Bompard - EES AS&nbsp; COMPLEX SYSTEMS - University of Klagenfurt</div>
    </div>
  );
}
